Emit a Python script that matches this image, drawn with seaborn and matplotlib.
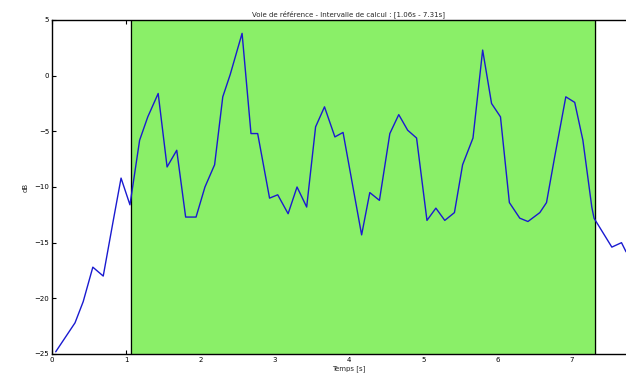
import numpy as np
import pandas as pd
import seaborn as sns
from matplotlib import pyplot as plt

# time [s] and level [dB]
temps = [0.05, 0.31, 0.42, 0.55, 0.69, 0.82, 0.93, 1.05, 1.18, 1.29, 1.43, 1.55, 1.68, 1.80,
         1.94, 2.06, 2.19, 2.30, 2.40, 2.56, 2.68, 2.77, 2.93, 3.04, 3.18, 3.30, 3.43,
         3.55, 3.67, 3.81, 3.92, 4.17, 4.28, 4.41, 4.55, 4.67, 4.79, 4.91, 5.05,
         5.17, 5.29, 5.42, 5.53, 5.67, 5.80, 5.92, 6.04, 6.16, 6.30, 6.41, 6.57,
         6.66, 6.77, 6.92, 7.04, 7.15, 7.27, 7.30, 7.54, 7.67, 7.73, 7.85]
niveau = [-24.8, -22.2, -20.3, -17.2, -18.0, -13.2, -9.2, -11.6, -5.8, -3.7, -1.6, -8.2, -6.7, -12.7,
          -12.7, -10.0, -8.0, -1.9, 0.1, 3.8, -5.2, -5.2, -11.0, -10.7, -12.4, -10.0, -11.8,
          -4.6, -2.8, -5.5, -5.1, -14.3, -10.5, -11.2, -5.2, -3.5, -4.9, -5.6, -13.0,
          -11.9, -13.0, -12.3, -8.0, -5.6, 2.3, -2.5, -3.7, -11.4, -12.8, -13.1, -12.3,
          -11.4, -7.3, -1.9, -2.4, -5.8, -11.8, -12.8, -15.4, -15.0, -15.8, -16.6]
intervalle = [1.06, 7.31]
xticks = [0, 1, 2, 3, 4, 5, 6, 7]
yticks = [5, 0, -5, -10, -15, -20, -25]

df = pd.DataFrame({'t': temps, 'dB': niveau})

sns.set_style('white')
plt.rcParams['font.family'] = ['DejaVu Sans']

fig = plt.figure(figsize=(6.26, 3.74), dpi=100)
ax = fig.add_axes([52 / 626, 20 / 374, 594 / 626, 334 / 374])
ax.set_axisbelow(True)

# calculation interval: green band, hides the ticks behind it
ax.axvspan(intervalle[0], intervalle[1], color='#8aef68', zorder=1)
for x in intervalle:
    ax.axvline(x, color='black', linewidth=0.9, zorder=1.5)

sns.lineplot(data=df, x='t', y='dB', ax=ax, color='#1a1ad0', linewidth=1, zorder=2)

ax.set_xlim(0, 8)
ax.set_ylim(-25, 5)
ax.set_xticks(xticks)
ax.set_yticks(yticks)
ax.tick_params(direction='in', length=3, width=0.8, labelsize=5, colors='black', pad=2,
               bottom=True, left=True, top=True, right=True)
for s in ax.spines.values():
    s.set_color('black')
    s.set_linewidth(1)

ax.set_title('Voie de référence - Intervalle de calcul : [1.06s - 7.31s]', fontsize=5, pad=3)
ax.set_xlabel('Temps [s]', fontsize=5, labelpad=2)
ax.set_ylabel('dB', fontsize=5, labelpad=4)

fig.savefig('out.png', dpi=100)
